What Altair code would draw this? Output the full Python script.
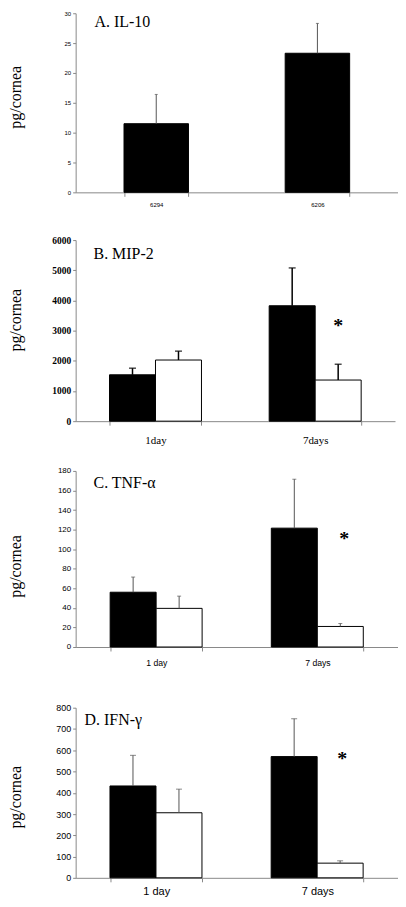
import altair as alt
import pandas as pd

# ---------------- data ----------------
groups = ["black", "white"]

a_cats = ["6294", "6206"]
a_vals = [11.5, 23.3]
a_errs = [16.4, 28.3]
a_ticks = [0, 5, 10, 15, 20, 25, 30]

b_cats = ["1day", "7days"]
b_black = [1536, 3824]
b_black_err = [1755, 5078]
b_white = [2026, 1363]
b_white_err = [2320, 1886]
b_star = 3290
b_ticks = [0, 1000, 2000, 3000, 4000, 5000, 6000]

c_cats = ["1 day", "7 days"]
c_black = [56, 121.5]
c_black_err = [71.5, 171.5]
c_white = [39.5, 21]
c_white_err = [52, 24]
c_star = 114
c_ticks = [0, 20, 40, 60, 80, 100, 120, 140, 160, 180]

d_cats = ["1 day", "7 days"]
d_black = [432, 570]
d_black_err = [576, 748]
d_white = [306, 69]
d_white_err = [417, 80]
d_star = 576
d_ticks = [0, 100, 200, 300, 400, 500, 600, 700, 800]

SERIF = "Liberation Serif"
SANS = "Liberation Sans"


def panel(cats, black, black_err, white, white_err, star, ticks, title, cfg):
    rows = []
    for i, c in enumerate(cats):
        rows.append(dict(cat=c, grp="black", val=black[i], err=black_err[i]))
        if white is not None:
            rows.append(dict(cat=c, grp="white", val=white[i], err=white_err[i]))
    df = pd.DataFrame(rows)
    w, h = cfg["w"], cfg["h"]

    x = alt.X(
        "cat:N",
        sort=cats,
        title=None,
        scale=alt.Scale(paddingInner=cfg["pi"], paddingOuter=cfg["po"]),
        axis=alt.Axis(
            labelAngle=0,
            labelFont=cfg["xfont"],
            labelFontSize=cfg["xsize"],
            labelFontWeight=cfg.get("xweight", "normal"),
            labelColor="black",
            labelPadding=cfg["xpad"],
            tickBand="extent",
            tickSize=4,
            tickColor="#888",
            domainColor="#888",
            domainWidth=1,
        ),
    )
    yscale = alt.Scale(domain=[ticks[0], ticks[-1]], nice=False, zero=True)
    yaxis = alt.Axis(
        values=ticks,
        format="d",
        labelOverlap=False,
        labelFlush=False,
        grid=False,
        labelFont=cfg["yfont"],
        labelFontSize=cfg["ysize"],
        labelFontWeight=cfg.get("yweight", "normal"),
        labelColor="black",
        labelPadding=2,
        tickSize=3,
        tickColor="#888",
        domainColor="#888",
        domainWidth=1,
        title="pg/cornea",
        titleFont=SERIF,
        titleFontSize=16,
        titleFontWeight="normal",
        titleColor="black",
        titleAngle=270,
        titleAlign="center",
        titleBaseline="alphabetic",
        titleX=-55,
        titleY=h / 2 + cfg["tyoff"],
    )
    y_val = alt.Y("val:Q", scale=yscale, axis=yaxis)
    y_err = alt.Y("err:Q", scale=yscale, axis=yaxis)

    enc = dict(x=x)
    if white is not None:
        enc["xOffset"] = alt.XOffset(
            "grp:N", sort=groups,
            scale=alt.Scale(domain=groups, paddingInner=0, paddingOuter=0),
        )
    color = alt.Color(
        "grp:N", scale=alt.Scale(domain=groups, range=["black", "white"]), legend=None
    )

    base = alt.Chart(df)
    bars = base.mark_bar(stroke="black", strokeWidth=1).encode(
        y=y_val, color=color, **enc
    )
    whisk = base.mark_rule(color=cfg["ecolor"], strokeWidth=cfg["ewidth"]).encode(
        y=y_val, y2="err:Q", **enc
    )
    caps = base.mark_tick(
        color=cfg["ecolor"], thickness=cfg["ewidth"], size=cfg["cap"]
    ).encode(y=y_err, **enc)
    layers = [bars, whisk, caps]

    if star is not None:
        sdf = pd.DataFrame({"cat": [cats[1]], "grp": ["white"], "val": [star]})
        stars = alt.Chart(sdf).mark_text(
            text="*", font=SERIF, fontSize=20, fontWeight="bold",
            baseline="alphabetic", dy=10, dx=cfg.get("sdx", 0), color="black",
        ).encode(y=y_val, **enc)
        layers.append(stars)

    tdf = pd.DataFrame({"t": [title]})
    ttl = alt.Chart(tdf).mark_text(
        align="left", baseline="alphabetic", font=SERIF, fontSize=16, color="black"
    ).encode(text="t:N", x=alt.value(cfg["tx"]), y=alt.value(cfg["ty"]))
    layers.append(ttl)

    return alt.layer(*layers).properties(width=w, height=h)


pA = panel(a_cats, a_vals, a_errs, None, None, None, a_ticks, "A. IL-10",
           dict(w=324, h=180, pi=0.6, po=0.3, xfont=SANS, xsize=6, xpad=5,
                yfont=SANS, ysize=6, tyoff=-6, ecolor="#555", ewidth=1, cap=3,
                tx=19, ty=14))
pB = panel(b_cats, b_black, b_black_err, b_white, b_white_err, b_star, b_ticks,
           "B. MIP-2",
           dict(w=321, h=182, pi=0.424, po=0.212, xfont=SERIF, xsize=11, xpad=9,
                yfont=SERIF, ysize=9.5, yweight="bold", tyoff=-11,
                ecolor="black", ewidth=1.5, cap=7, tx=18, ty=19))
pC = panel(c_cats, c_black, c_black_err, c_white, c_white_err, c_star, c_ticks,
           "C. TNF-α",
           dict(w=324, h=177, pi=0.428, po=0.214, xfont=SANS, xsize=8.7, xpad=8,
                yfont=SANS, ysize=8, tyoff=7, ecolor="#555", ewidth=1, cap=4,
                tx=18, ty=17, sdx=4))
pD = panel(d_cats, d_black, d_black_err, d_white, d_white_err, d_star, d_ticks,
           "D. IFN-γ",
           dict(w=324, h=171, pi=0.426, po=0.213, xfont=SANS, xsize=11, xpad=4,
                yfont=SANS, ysize=9, tyoff=4, ecolor="#555", ewidth=1, cap=6,
                tx=9, ty=17, sdx=2))

chart = alt.vconcat(
    alt.vconcat(alt.vconcat(pA, pB, spacing=28), pC, spacing=22),
    pD,
    spacing=36,
).properties(padding=0).configure_view(strokeWidth=0)

chart.save("out.html", embed_options={"renderer": "svg", "actions": False})
